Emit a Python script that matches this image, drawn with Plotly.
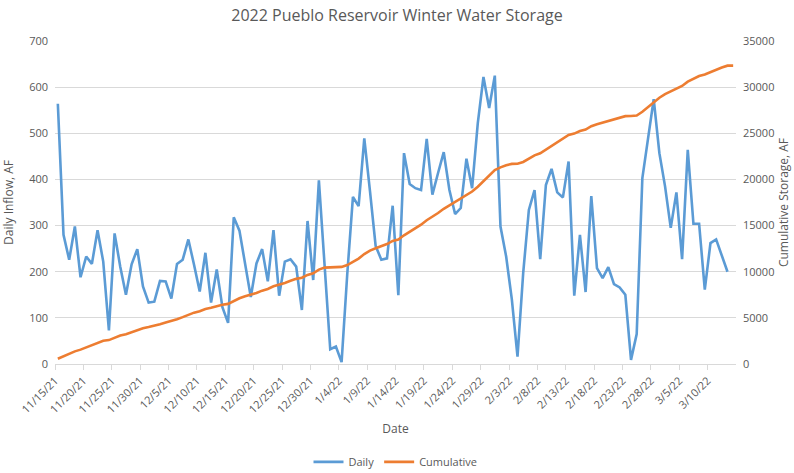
import plotly.graph_objects as go
import pandas as pd

start_date = "2021-11-15"
daily = [564, 280, 226, 298, 188, 233, 217, 290, 222, 73,
         283, 211, 150, 216, 249, 168, 133, 135, 180, 179,
         142, 217, 226, 270, 215, 157, 241, 133, 205, 123,
         89, 318, 289, 217, 145, 218, 249, 179, 290, 148,
         222, 227, 211, 117, 310, 182, 398, 215, 32, 38,
         4, 195, 362, 342, 489, 375, 256, 226, 229, 343,
         149, 457, 390, 381, 377, 488, 367, 414, 459, 377,
         325, 338, 445, 381, 522, 622, 555, 625, 298, 233,
         140, 16, 197, 334, 377, 227, 388, 423, 372, 361,
         439, 148, 280, 156, 364, 208, 186, 210, 173, 166,
         150, 9, 65, 403, 486, 574, 457, 385, 295, 372,
         227, 464, 304, 304, 161, 262, 270, 233, 200]
cumulative = [564, 844, 1070, 1368, 1556, 1789, 2006, 2296, 2518, 2591,
              2874, 3085, 3235, 3451, 3700, 3868, 4001, 4136, 4316, 4495,
              4637, 4854, 5080, 5350, 5565, 5722, 5963, 6096, 6301, 6424,
              6513, 6831, 7120, 7337, 7482, 7700, 7949, 8128, 8418, 8566,
              8788, 9015, 9226, 9343, 9653, 9835, 10233, 10448, 10480, 10518,
              10522, 10717, 11079, 11421, 11910, 12285, 12541, 12767, 12996, 13339,
              13488, 13945, 14335, 14716, 15093, 15581, 15948, 16362, 16821, 17198,
              17523, 17861, 18306, 18687, 19209, 19831, 20386, 21011, 21309, 21542,
              21682, 21698, 21895, 22229, 22606, 22833, 23221, 23644, 24016, 24377,
              24816, 24964, 25244, 25400, 25764, 25972, 26158, 26368, 26541, 26707,
              26857, 26866, 26931, 27334, 27820, 28394, 28851, 29236, 29531, 29903,
              30130, 30594, 30898, 31202, 31363, 31625, 31895, 32128, 32328, 32328]
tick_labels = ["11/15/21", "11/20/21", "11/25/21", "11/30/21", "12/5/21", "12/10/21",
               "12/15/21", "12/20/21", "12/25/21", "12/30/21", "1/4/22", "1/9/22",
               "1/14/22", "1/19/22", "1/24/22", "1/29/22", "2/3/22", "2/8/22",
               "2/13/22", "2/18/22", "2/23/22", "2/28/22", "3/5/22", "3/10/22"]

# points sit at the middle of each day (Excel date axis, between tick marks)
days_cum = pd.date_range(start_date, periods=len(cumulative), freq="D") + pd.Timedelta(hours=12)
days_daily = days_cum[:len(daily)]
tick_vals = pd.date_range(start_date, periods=len(tick_labels), freq="5D")

GRAY = "#595959"
GRID = "#d9d9d9"
FONT = "Open Sans"

fig = go.Figure()
fig.add_trace(go.Scatter(x=days_daily, y=daily, name="Daily", mode="lines",
                         line=dict(color="#5B9BD5", width=2.6)))
fig.add_trace(go.Scatter(x=days_cum, y=cumulative, name="Cumulative", mode="lines",
                         line=dict(color="#ED7D31", width=2.6), yaxis="y2"))

fig.update_layout(
    width=794, height=473,
    margin=dict(l=55, r=58, t=41, b=109, autoexpand=False),
    paper_bgcolor="white", plot_bgcolor="white",
    font=dict(family=FONT, color=GRAY, size=11),
    title=dict(text="2022 Pueblo Reservoir Winter Water Storage", x=0.5, xanchor="center",
               y=0.968, yanchor="middle", font=dict(size=16, color=GRAY, family=FONT)),
    xaxis=dict(type="date", range=[pd.Timestamp(start_date), pd.Timestamp("2022-03-15")],
               tickvals=tick_vals, ticktext=tick_labels, tickangle=-45,
               showgrid=False, showline=True, linecolor=GRID, linewidth=1,
               ticks="outside", ticklen=5, tickcolor=GRID, automargin=False,
               tickfont=dict(size=11, color=GRAY),
               title=dict(text="Date", font=dict(size=12, color=GRAY), standoff=9)),
    yaxis=dict(range=[0, 700], dtick=100, showgrid=True, gridcolor=GRID, gridwidth=1,
               zeroline=False, showline=False, ticks="", tickfont=dict(size=11, color=GRAY),
               ticklabelstandoff=6, automargin=False,
               title=dict(text="Daily Inflow, AF", font=dict(size=12, color=GRAY), standoff=12)),
    yaxis2=dict(range=[0, 35000], dtick=5000, tickformat="d", overlaying="y", side="right",
                showgrid=False, zeroline=False, showline=False, ticks="",
                tickfont=dict(size=11, color=GRAY), ticklabelstandoff=6, automargin=False,
                title=dict(text="Cumulative Storage, AF", font=dict(size=12, color=GRAY), standoff=6)),
    legend=dict(orientation="h", x=0.5, xanchor="center", y=-0.303, yanchor="middle",
                font=dict(size=11, color=GRAY)),
    showlegend=True,
)

fig.write_html("out.html", config={"displayModeBar": False},
               post_script="document.body.style.margin='0';document.body.style.overflow='hidden';")
